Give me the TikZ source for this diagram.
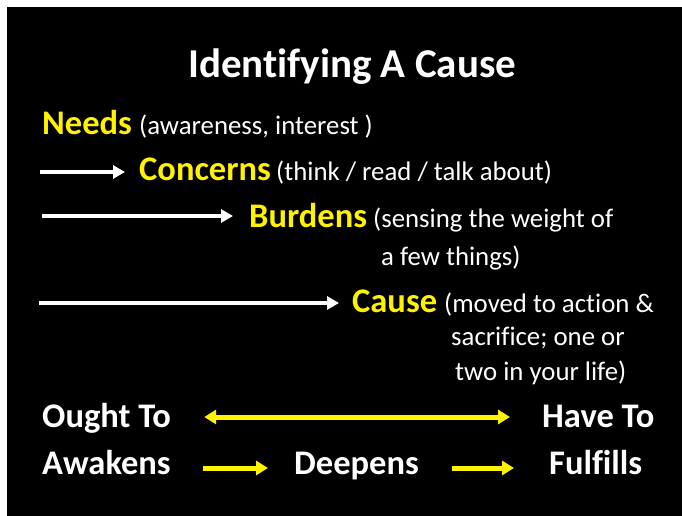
\documentclass[tikz,border=0pt]{standalone}
\usepackage{fontspec}
\setmainfont{Carlito}[Ligatures={NoCommon}]
\usetikzlibrary{arrows.meta}

\begin{document}
\begin{tikzpicture}[x=1pt, y=-1pt,
    key/.style={anchor=base west, inner sep=0pt, text=yellow, font=\fontsize{34.5}{38}\selectfont\bfseries},
    note/.style={anchor=base west, inner sep=0pt, text=white, font=\fontsize{26.8}{30}\selectfont},
    big/.style={anchor=base west, inner sep=0pt, text=white, font=\fontsize{34.5}{38}\selectfont\bfseries},
    warrow/.style={draw=white, line width=4.5pt, -{Triangle[length=12pt,width=13pt]}},
    yarrow/.style={draw=yellow, line width=5pt, -{Triangle[length=12pt,width=14pt]}}]

        % background: white margin at the top and the left
        \fill[white] (0,0) rectangle (682,516);
        \fill[black] (7,7) rectangle (682,516);
        \useasboundingbox (0,0) rectangle (682,516);

        % title
        \node[anchor=base, inner sep=0pt, text=white, font=\fontsize{41}{45}\selectfont\bfseries] (title) at (352,78) {Identifying A Cause};

        % the four steps
        \node[key] (needs) at (42,135) {Needs};
        \node[note] (needsnote) at (139,135) {(awareness, interest )};

        \node[key] (concerns) at (139,180) {Concerns};
        \node[note] (concernsnote) at (276,180) {(think / read / talk about)};

        \node[key] (burdens) at (249,227) {Burdens};
        \node[note] (burdensnote) at (373,227) {(sensing the weight of};
        \node[note] (burdensnoteb) at (381,265) {a few things)};

        \node[key] (cause) at (352,312) {Cause};
        \node[note] (causenote) at (444,312) {(moved to action \&};
        \node[note] (causenoteb) at (451,345) {sacrifice; one or};
        \node[note] (causenotec) at (455,380) {two in your life)};

        % free ends of the white arrows
        \coordinate (a1) at (40,172);
        \coordinate (a2) at (42,216);
        \coordinate (a3) at (39,303);
        \draw[warrow] (a1) -- (a1 -| concerns.west) [shorten >=14pt];
        \draw[warrow] (a2) -- (a2 -| burdens.west) [shorten >=16pt];
        \draw[warrow] (a3) -- (a3 -| cause.west) [shorten >=13pt];

        % bottom rows
        \node[big] (ought) at (42,427) {Ought To};
        \node[big] (have) at (542,427) {Have To};
        \node[big] (awakens) at (42,474) {Awakens};
        \node[big] (deepens) at (294,474) {Deepens};
        \node[big] (fulfills) at (549,474) {Fulfills};

        % heights of the yellow arrows
        \coordinate (r1) at (0,417);
        \coordinate (r2) at (0,468);
	\draw[yarrow, {Triangle[length=12pt,width=14pt]}-{Triangle[length=12pt,width=14pt]}, shorten <=33pt, shorten >=32pt] (ought.east |- r1) -- (have.west |- r1);
	\draw[yarrow, shorten <=32pt, shorten >=26pt] (awakens.east |- r2) -- (deepens.west |- r2);
	\draw[yarrow, shorten <=33pt, shorten >=35pt] (deepens.east |- r2) -- (fulfills.west |- r2);

\end{tikzpicture}
\end{document}
